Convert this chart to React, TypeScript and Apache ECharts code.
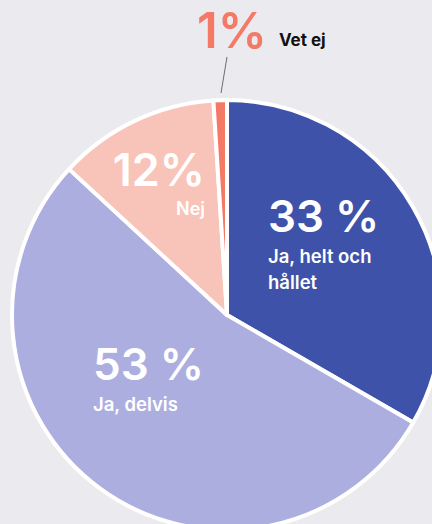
import React, { useEffect, useRef } from 'react';
import * as echarts from 'echarts';

const categories = ['Ja, helt och hållet', 'Ja, delvis', 'Nej', 'Vet ej'];
const values = [33, 53, 12, 1];
const valueLabels = ['33 %', '53 %', '12%', '1%'];
const nameLines = ['Ja, helt och\nhållet', 'Ja, delvis', 'Nej', 'Vet ej'];
const colors = ['#3e52a9', '#adaee0', '#f8c4b9', '#f47a67'];

const labelAnchors: any[] = [
  { x: 268, y: 189, align: 'left' },
  { x: 93, y: 337, align: 'left' },
  { x: 205, y: 142, align: 'right' },
  { x: 197, y: 3, align: 'left', line: [[221, 93], [224, 75], [227, 57]] },
];

const FONT = 'Inter, "Noto Sans", sans-serif';

export default function App() {
  const ref = useRef<HTMLDivElement>(null);
  useEffect(() => {
    if (!ref.current) return;
    const chart = echarts.init(ref.current, null, { renderer: 'svg' });
    const data = categories.map((name, i) => ({
      name,
      value: values[i],
      itemStyle: { color: colors[i] },
      label: {
        show: true,
        position: i === 3 ? 'outside' : 'inside',
        formatter:
          i === 3
            ? `{big|${valueLabels[i]}}{vet|${nameLines[i]}}`
            : i === 2
            ? `{pctR|${valueLabels[i]}}\n{nameR|${nameLines[i]}}`
            : `{pct|${valueLabels[i]}}\n{name|${nameLines[i]}}`,
      },
      labelLine: { show: i === 3, lineStyle: { color: '#6b6b75', width: 1 } },
    }));
    chart.setOption({
      animation: false,
      backgroundColor: '#ebebef',
      series: [
        {
          type: 'pie',
          center: [227, 315],
          radius: 215,
          startAngle: 90,
          clockwise: true,
          avoidLabelOverlap: false,
          itemStyle: { borderColor: '#ffffff', borderWidth: 4 },
          label: {
            fontFamily: FONT,
            rich: {
              pct: { color: '#ffffff', fontSize: 44, fontWeight: 600, lineHeight: 54, fontFamily: FONT },
              name: { color: '#ffffff', fontSize: 18.5, fontWeight: 600, lineHeight: 26, fontFamily: FONT },
              pctR: { color: '#ffffff', fontSize: 45, fontWeight: 600, lineHeight: 54, fontFamily: FONT, align: 'right' },
              nameR: { color: '#ffffff', fontSize: 18, fontWeight: 600, lineHeight: 24, fontFamily: FONT, align: 'right' },
              big: { color: '#f47a67', fontSize: 49, fontWeight: 600, lineHeight: 54, fontFamily: FONT },
              vet: { color: '#111111', fontSize: 17, fontWeight: 700, lineHeight: 20, fontFamily: FONT, verticalAlign: 'bottom', padding: [0, 0, 9, 12] },
            },
          },
          labelLine: { length: 20, length2: 0 },
          labelLayout: (params: any) => {
            const a = labelAnchors[params.dataIndex];
            const out: any = { x: a.x, y: a.y, align: a.align, verticalAlign: 'top' };
            if (a.line) out.labelLinePoints = a.line;
            return out;
          },
          data,
        },
      ],
    });
    return () => chart.dispose();
  }, []);
  return (
    <div
      ref={ref}
      style={{ position: 'absolute', left: 0, top: 0, width: 432, height: 524 }}
    />
  );
}
